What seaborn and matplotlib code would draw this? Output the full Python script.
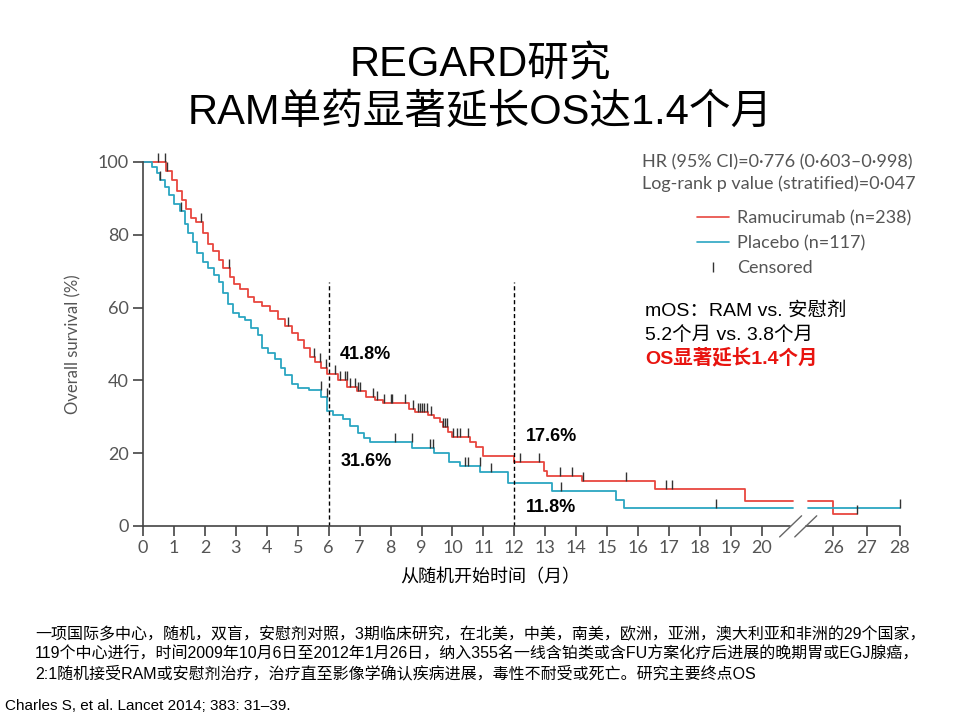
import numpy as np
import matplotlib
matplotlib.use("Agg")
import matplotlib.pyplot as plt
import matplotlib.markers as mmarkers
from matplotlib.lines import Line2D
import seaborn as sns

# KM step knots (months, survival %)
red_t = [0, 0.75, 0.95, 1.1, 1.25, 1.4, 1.55, 1.7, 1.95, 2.1, 2.25, 2.45, 2.6, 2.8, 2.95, 3.15,
         3.4, 3.6, 3.85, 4.1, 4.35, 4.6, 4.8, 5.0, 5.2, 5.4, 5.55, 5.75, 5.95, 6.3, 6.6, 6.9,
         7.2, 7.5, 7.75, 8.6, 8.8, 9.2, 9.4, 9.6, 9.7, 9.85, 9.97, 10.55, 10.75, 11.0, 12.0,
         12.95, 13.05, 14.2, 16.55, 19.45, 26.0]
red_s = [100, 97.5, 95, 92, 89.5, 87, 84.5, 83.5, 80.5, 77.5, 75.5, 73, 71, 68.5, 66.5, 65,
         63, 61.5, 60.5, 59, 57, 55, 53, 51, 49, 46.5, 45, 43.5, 41.8, 40, 38.2, 37,
         35.5, 34.5, 33.7, 32.2, 31.4, 30.5, 29.8, 28.5, 27.3, 25.8, 24.5, 23.2, 21.8, 19.2, 17.6,
         15.2, 13.6, 12.4, 10.1, 6.9, 3.3]
red_end = 26.7

blue_t = [0, 0.3, 0.45, 0.55, 0.7, 0.85, 1.0, 1.2, 1.35, 1.45, 1.6, 1.75, 1.95, 2.1, 2.3, 2.45,
          2.6, 2.75, 2.9, 3.1, 3.3, 3.5, 3.7, 3.85, 4.05, 4.25, 4.45, 4.6, 4.8, 5.0, 5.35, 5.75,
          5.95, 6.15, 6.45, 6.7, 6.95, 7.15, 7.35, 8.7, 9.4, 9.9, 10.25, 10.9, 11.8, 13.2, 15.28,
          15.55]
blue_s = [100, 98.5, 97, 95, 93, 91, 88.5, 86.5, 83, 80.5, 78, 75, 72.5, 71, 69, 67,
          64, 61, 58.5, 57.5, 56.5, 54.5, 52.5, 49, 47.5, 46, 43.5, 41.5, 39, 38, 37.5, 35.5,
          31.6, 30.5, 29.5, 27.5, 25.5, 24.2, 23.2, 21.4, 20, 17.7, 16.5, 14.9, 11.8, 9.7, 7.1,
          4.9]
blue_end = 28

red_cens = [0.47, 0.71, 0.77, 1.86, 2.79, 4.7, 5.52, 5.72, 5.91, 6.2, 6.37, 6.53, 6.58, 6.69,
            6.85, 6.96, 7.01, 7.44, 7.55, 7.8, 8.01, 8.05, 8.47, 8.73, 8.87, 8.95, 9.0, 9.09,
            9.17, 9.31, 9.7, 9.76, 9.81, 10.03, 10.14, 10.24, 10.51, 12.18, 12.8, 13.47, 13.85,
            14.23, 15.6, 16.9, 17.1, 26.7]
blue_cens = [0.55, 1.23, 5.74, 5.94, 8.14, 8.68, 9.27, 9.38, 10.42, 10.5, 10.89, 11.23, 13.5,
             18.5, 28]

landmarks = [6, 12]
red_at_landmark = ["41.8%", "17.6%"]
blue_at_landmark = ["31.6%", "11.8%"]

xticks = list(range(0, 21)) + [26, 27, 28]
yticks = [0, 20, 40, 60, 80, 100]

RED = "#e8473f"
BLUE = "#2ba6c2"
GREY = "#555555"
AXC = "#444444"
CJK = ["Liberation Sans", "Noto Sans CJK SC"]
GAP = (21.05, 22.88)


# broken x axis: 21..26 squeezed
def fwd(t):
    t = np.asarray(t, float)
    return np.where(t <= 21, t, np.where(t >= 26, 22.3 + (t - 26) * 1.08, 21 + (t - 21) * 0.26))


def inv(u):
    u = np.asarray(u, float)
    return np.where(u <= 21, u, np.where(u >= 22.3, 26 + (u - 22.3) / 1.08, 21 + (u - 21) / 0.26))


def km_pieces(times, surv, t_end):
    times = np.asarray(times, float)
    surv = np.asarray(surv, float)
    out = []
    for lo, hi in [(0, min(GAP[0], t_end)), (GAP[1], t_end)]:
        if hi <= lo:
            continue
        keep = (times > lo) & (times < hi)
        s0 = surv[times <= lo][-1]
        ys = surv[keep]
        x = np.r_[lo, times[keep], hi]
        y = np.r_[s0, ys, ys[-1] if len(ys) else s0]
        out.append((x, y))
    return out


def surv_at(times, surv, c):
    idx = np.searchsorted(times, c, side="right") - 1
    return np.asarray(surv)[idx]


sns.set_theme(style="ticks")
plt.rcParams["font.family"] = CJK
plt.rcParams["text.color"] = "black"

fig = plt.figure(figsize=(9.6, 7.2), dpi=100)
ax = fig.add_axes([143 / 960, 1 - 526 / 720, 757 / 960, 364 / 720])

for t, s, end, col in [(red_t, red_s, red_end, RED), (blue_t, blue_s, blue_end, BLUE)]:
    for x, y in km_pieces(t, s, end):
        sns.lineplot(x=x, y=y, drawstyle="steps-post", estimator=None, sort=False,
                     color=col, lw=1.3, ax=ax, clip_on=False)

for t, s, cens in [(red_t, red_s, red_cens), (blue_t, blue_s, blue_cens)]:
    ax.plot(cens, surv_at(t, s, cens), ls="none", marker=mmarkers.TICKUP,
            markersize=6.5, mew=1.0, color="#333333", clip_on=False, zorder=3)

ax.vlines(landmarks, 0, 67, colors="black", linestyles=(0, (3, 2)), lw=1)
for xl, rl, bl, ry, by in zip(landmarks, red_at_landmark, blue_at_landmark, [47, 24.7], [17.6, 5]):
    ax.text(xl + 0.37, ry, rl, fontsize=13, fontweight="bold", va="center", ha="left")
    ax.text(xl + 0.37, by, bl, fontsize=13, fontweight="bold", va="center", ha="left")

ax.set_xscale("function", functions=(fwd, inv))
ax.set_xlim(0, 28)
ax.set_ylim(0, 100)
ax.set_xticks(xticks)
ax.set_xticklabels([str(v) for v in xticks])
ax.set_yticks(yticks)
ax.xaxis.set_minor_locator(matplotlib.ticker.NullLocator())
sns.despine(ax=ax)
ax.spines["bottom"].set_visible(False)
ax.spines["left"].set_color(AXC)
ax.spines["left"].set_linewidth(1.2)
ax.tick_params(axis="both", direction="out", length=7, width=1.2, color=AXC,
               labelcolor=GREY, labelsize=13, pad=3)
for lab in ax.get_xticklabels() + ax.get_yticklabels():
    lab.set_family("Lato")

# broken bottom axis line with // marks
ax.plot([0, 0.855], [0, 0], transform=ax.transAxes, color=AXC, lw=1.2, clip_on=False)
ax.plot([0.876, 1], [0, 0], transform=ax.transAxes, color=AXC, lw=1.2, clip_on=False)
ax.plot([0.841, 0.870], [-0.03, 0.028], transform=ax.transAxes, color="#666666", lw=1, clip_on=False)
ax.plot([0.861, 0.890], [-0.03, 0.028], transform=ax.transAxes, color="#666666", lw=1, clip_on=False)

ax.set_xlabel("")
ax.set_ylabel("Overall survival (%)", family="Lato", fontsize=12, color=GREY, labelpad=12)

handles = [Line2D([], [], color=RED, lw=1.2), Line2D([], [], color=BLUE, lw=1.2),
           Line2D([], [], color="#333333", marker="|", ls="none", markersize=7)]
ax.legend(handles, ["Ramucirumab (n=238)", "Placebo (n=117)", "Censored"],
          loc="upper left", bbox_to_anchor=(697 / 960, 1 - 210 / 720), bbox_transform=fig.transFigure,
          frameon=False, handlelength=1.75, handletextpad=0.45, labelspacing=0.5,
          borderpad=0, borderaxespad=0, prop={"family": "Lato", "size": 13}, labelcolor=GREY)

fig.text(642 / 960, 1 - 162 / 720, "HR (95% CI)=0·776 (0·603–0·998)", family="Lato",
         fontsize=13, color=GREY, va="center")
fig.text(642 / 960, 1 - 184 / 720, "Log-rank p value (stratified)=0·047", family="Lato",
         fontsize=13, color=GREY, va="center")

fig.text(645 / 960, 1 - 311 / 720, "mOS：RAM vs. 安慰剂", fontsize=14, va="center")
fig.text(645 / 960, 1 - 335 / 720, "5.2个月 vs. 3.8个月", fontsize=14, va="center")
fig.text(645 / 960, 1 - 358 / 720, "OS显著延长1.4个月", fontsize=14, va="center",
         color="#e8140f", fontweight="bold")

fig.text(0.5, 1 - 65 / 720, "REGARD研究", fontsize=30, ha="center", va="center")
fig.text(0.5, 1 - 113 / 720, "RAM单药显著延长OS达1.4个月", fontsize=30, ha="center", va="center")

fig.text(490 / 960, 1 - 578 / 720, "从随机开始时间（月）", fontsize=13, ha="center", va="center")

foot = ["一项国际多中心，随机，双盲，安慰剂对照，3期临床研究，在北美，中美，南美，欧洲，亚洲，澳大利亚和非洲的29个国家，",
        "119个中心进行，时间2009年10月6日至2012年1月26日，纳入355名一线含铂类或含FU方案化疗后进展的晚期胃或EGJ腺癌，",
        "2:1随机接受RAM或安慰剂治疗，治疗直至影像学确认疾病进展，毒性不耐受或死亡。研究主要终点OS"]
for i, line in enumerate(foot):
    fig.text(35 / 960, 1 - (634 + 20 * i) / 720, line, fontsize=11.5, va="center")
fig.text(5 / 960, 1 - 706 / 720, "Charles S, et al. Lancet 2014; 383: 31–39.", fontsize=11, va="center")

fig.savefig("out.png", dpi=100)
